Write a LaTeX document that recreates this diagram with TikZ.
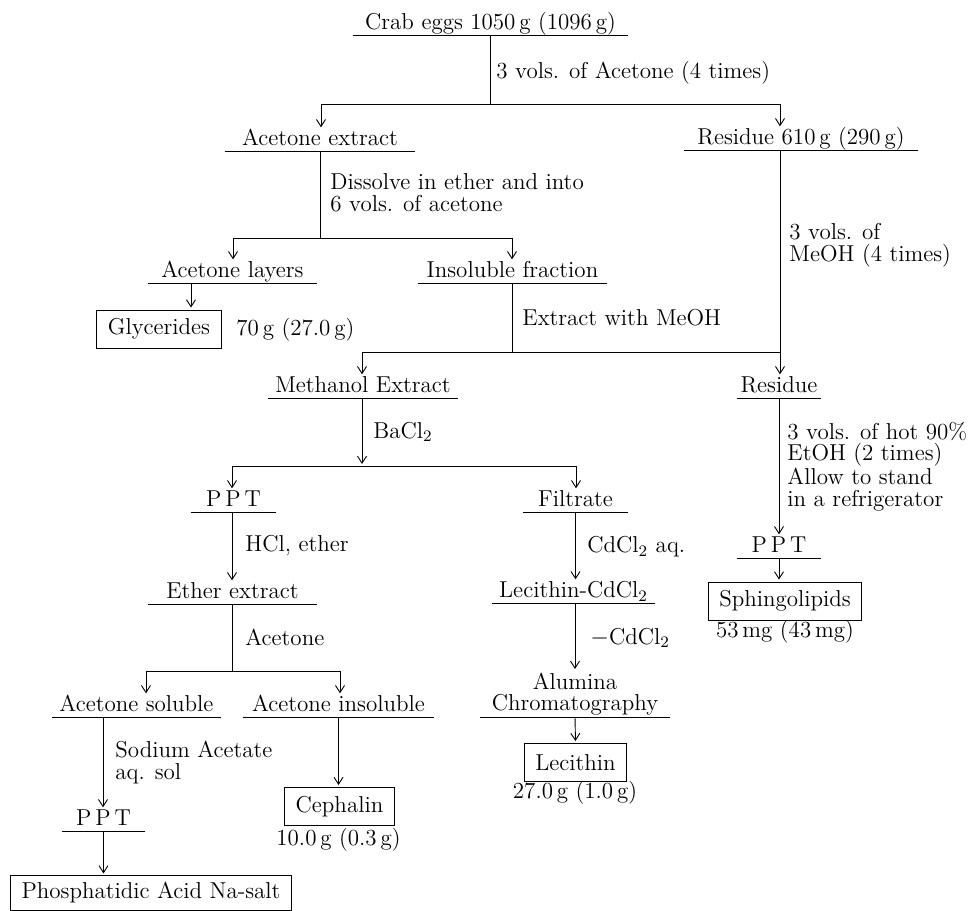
\documentclass[tikz,border=0pt]{standalone}
\usetikzlibrary{arrows.meta}
\tikzset{>={Straight Barb[length=3.5pt,width=4.5pt]}}

\begin{document}
\begin{tikzpicture}[x=0.5pt, y=-0.5pt, line width=0.45pt,
    font=\fontsize{11.5}{10.8}\selectfont,
    uline/.style={anchor=south, inner xsep=0pt, inner ysep=0pt,
      append after command={(\tikzlastnode.south west) edge (\tikzlastnode.south east)}},
    stage/.style={uline, text height=8pt, text depth=2.4pt},
    product/.style={draw, inner xsep=5.5pt, minimum height=19pt},
    note/.style={anchor=west, inner sep=0pt, align=left},
    yield/.style={inner sep=0pt},
    flow/.style={->, shorten >=1pt}]
    \useasboundingbox (0,0) rectangle (968,910);

    % stages
    \node[stage, minimum width=137.5pt] (crab) at (490.5,35) {Crab eggs 1050\,g (1096\,g)};
    \node[stage, minimum width=95pt] (acex) at (320,151) {Acetone extract};
    \node[stage, minimum width=117pt] (res1) at (801,150) {Residue 610\,g (290\,g)};
    \node[stage, minimum width=84.5pt] (aclay) at (232.5,283) {Acetone layers};
    \node[stage, minimum width=94.5pt] (insol) at (512.5,283) {Insoluble fraction};
    \node[stage, minimum width=95pt] (meth) at (363,398) {Methanol Extract};
    \node[stage, minimum width=42pt] (res2) at (779,398) {Residue};
    \node[stage, minimum width=42.5pt] (ppt1) at (233.5,512) {P\,P\,T};
    \node[stage, minimum width=52.5pt] (filt) at (575.5,512) {Filtrate};
    \node[stage, minimum width=42pt] (ppt2) at (779,558) {P\,P\,T};
    \node[stage, minimum width=84.5pt] (ether) at (232.5,604) {Ether extract};
    \node[stage, minimum width=81.5pt] (leccd) at (573.5,603) {Lecithin-CdCl$_2$};
    \node[stage, minimum width=84.5pt] (acsol) at (136.5,717) {Acetone soluble};
    \node[stage, minimum width=95.5pt] (acins) at (338.5,717) {Acetone insoluble};
    \node[uline, inner ysep=0.6pt, align=center, minimum width=95pt] (alum) at (575,717) {Alumina\\Chromatography};
    \node[stage, minimum width=41.5pt] (ppt3) at (103.5,831) {P\,P\,T};

    % products
    \node[product] (glyc) at (159,329) {Glycerides};
    \node[product] (ceph) at (339.5,806.5) {Cephalin};
    \node[product] (lec) at (575.5,762.5) {Lecithin};
    \node[product] (sph) at (785,601) {Sphingolipids};
    \node[product, minimum height=16pt] (pa) at (151,893) {Phosphatidic Acid Na-salt};
    \node[yield, anchor=west] (glycw) at (236,330) {70\,g (27.0\,g)};
    \node[yield] (cephw) at (338.5,840) {10.0\,g (0.3\,g)};
    \node[yield] (lecw) at (575,793) {27.0\,g (1.0\,g)};
    \node[yield] (sphw) at (785,632) {53\,mg (43\,mg)};

    % treatments
    \node[note] (t1) at (496,73) {3 vols. of Acetone (4 times)};
    \node[note] (t2) at (330,193) {Dissolve in ether and into\\6 vols. of acetone};
    \node[note] (t3) at (789,245.5) {3 vols. of\\MeOH (4 times)};
    \node[note] (t4) at (522,318) {Extract with MeOH};
    \node[note] (t5) at (373,432) {BaCl$_2$};
    \node[note] (t6) at (787,466.5) {3 vols. of hot 90\%\\EtOH (2 times)\\Allow to stand\\in a refrigerator};
    \node[note] (t7) at (245,546) {HCl, ether};
    \node[note] (t8) at (587,547) {CdCl$_2$ aq.};
    \node[note] (t9) at (245,637) {Acetone};
    \node[note] (t10) at (590,638) {$-$CdCl$_2$};
    \node[note] (t11) at (115,762.5) {Sodium Acetate\\aq. sol};

    % junctions
    \coordinate (j1a) at (321,104);
    \coordinate (j1b) at (780,104);
    \coordinate (j2a) at (233,238);
    \coordinate (j2b) at (512,238);
    \coordinate (g1) at (191,283);
    \coordinate (j3a) at (362,352);
    \coordinate (j3b) at (780,352);
    \coordinate (j4) at (362,466);
    \coordinate (j4a) at (232,466);
    \coordinate (j4b) at (576,466);
    \coordinate (j5a) at (146,671);
    \coordinate (j5b) at (340,671);
    \coordinate (k1) at (103,717);

    % connectors
    \draw (crab.south) -- (crab.south |- j1a);
    \draw (j1a) -- (j1b);
    \draw[flow] (j1a) -- (j1a |- acex.north);
    \draw[flow] (j1b) -- (j1b |- res1.north);

    \draw (acex.south) -- (acex.south |- j2a);
    \draw (j2a) -- (j2b);
    \draw[flow] (j2a) -- (j2a |- aclay.north);
    \draw[flow] (j2b) -- (j2b |- insol.north);
    \draw[flow] (g1) -- (g1 |- glyc.north);

    \draw (insol.south) -- (insol.south |- j3a);
    \draw (res1.south -| j3b) -- (j3b);
    \draw (j3a) -- (j3b);
    \draw[flow] (j3a) -- (j3a |- meth.north);
    \draw[flow] (j3b) -- (j3b |- res2.north);

    \draw[flow] (meth.south -| j4) -- (j4);
    \draw (j4a) -- (j4b);
    \draw[flow] (j4a) -- (j4a |- ppt1.north);
    \draw[flow] (j4b) -- (j4b |- filt.north);

    \draw[flow] (ppt1.south -| j4a) -- (j4a |- ether.north);
    \draw (ether.south) -- (ether.south |- j5a);
    \draw (j5a) -- (j5b);
    \draw[flow] (j5a) -- (j5a |- acsol.north);
    \draw[flow] (j5b) -- (j5b |- acins.north);
    \draw[flow] (k1) -- (k1 |- ppt3.north);
    \draw[flow] (ppt3.south) -- (ppt3.south |- pa.north);
    \draw[flow] (acins.south) -- (acins.south |- ceph.north);

    \draw[flow] (filt.south) -- (filt.south |- leccd.north);
    \draw[flow] (leccd.south -| alum.north) -- (alum.north);
    \draw[flow] (alum.south) -- (lec.north);
    \draw[flow] (res2.south) -- (ppt2.north);
    \draw[flow] (ppt2.south) -- (ppt2.south |- sph.north);
\end{tikzpicture}
\end{document}
